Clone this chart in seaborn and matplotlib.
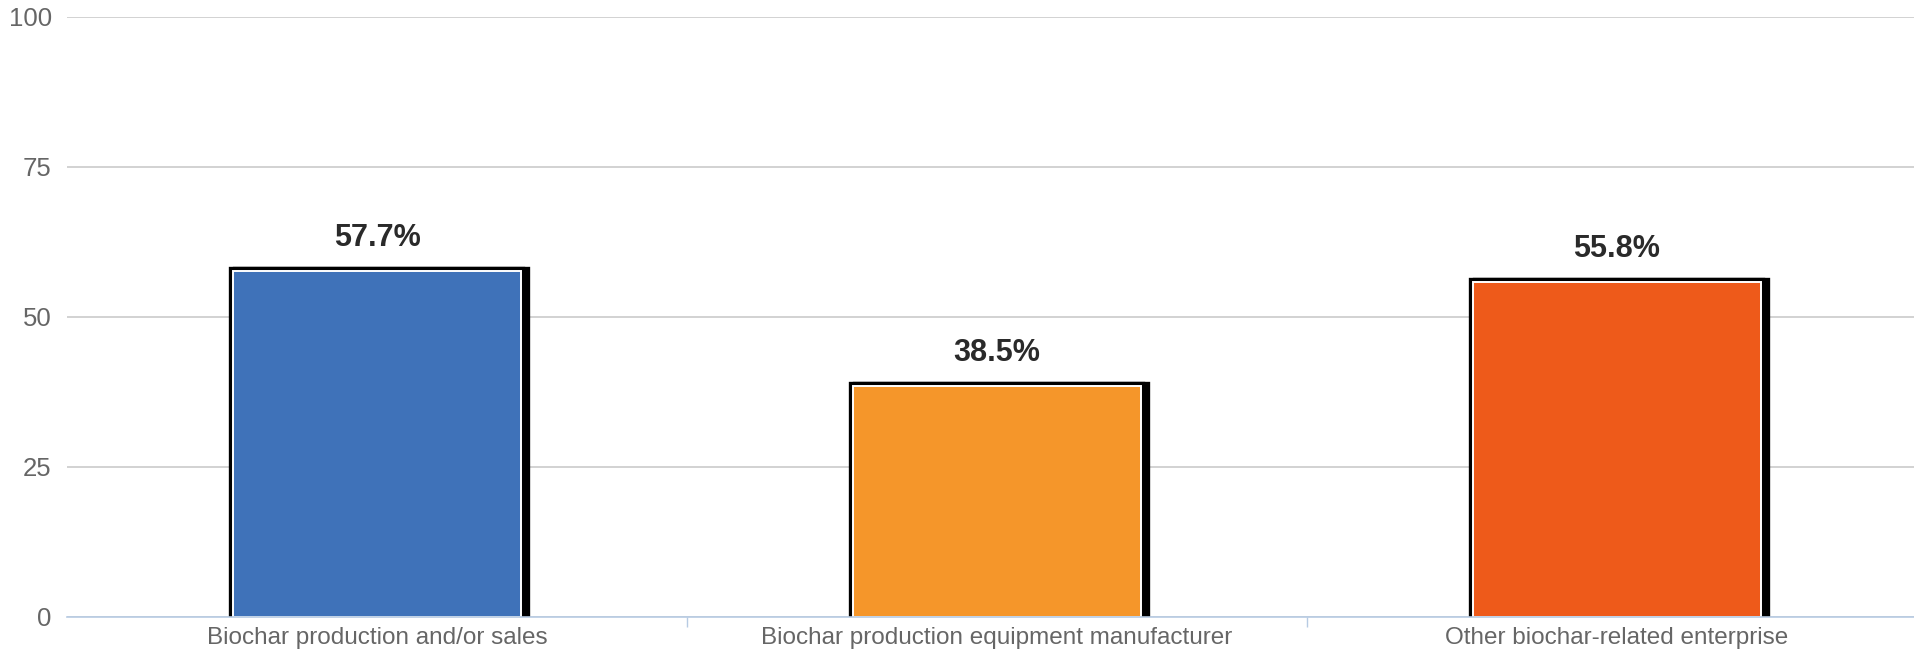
import matplotlib
matplotlib.use("Agg")
import matplotlib.pyplot as plt
import matplotlib.patheffects as pe
from matplotlib.ticker import FixedLocator
import seaborn as sns
import pandas as pd

# Data
categories = ["Biochar production and/or sales",
              "Biochar production equipment manufacturer",
              "Other biochar-related enterprise"]
shares = [57.7, 38.5, 55.8]
bar_colors = ["#3F72B9", "#F5962A", "#EE5A1A"]
y_ticks = [0, 25, 50, 75, 100]

df = pd.DataFrame({"category": categories, "share": shares})

sns.set_theme(style="white")
plt.rcParams["font.family"] = ["Liberation Sans", "DejaVu Sans"]

fig = plt.figure(figsize=(19.15, 6.49), dpi=100)
ax = fig.add_axes([67 / 1915, 32 / 649, 1 - 67 / 1915, 600 / 649])

sns.barplot(data=df, x="category", y="share", hue="category",
            palette=bar_colors, saturation=1, legend=False, width=0.465,
            edgecolor="white", linewidth=1.4, ax=ax)

# black frame, thicker on the right side, like the original
for bar in ax.patches:
    bar.set_path_effects([
        pe.Stroke(offset=(3.2, 0), linewidth=6, foreground="black"),
        pe.Stroke(linewidth=6, foreground="black"),
        pe.Normal(),
    ])
    h = bar.get_height()
    ax.annotate(f"{h:.1f}%", (bar.get_x() + bar.get_width() / 2, h),
                xytext=(0, 13), textcoords="offset points",
                ha="center", va="bottom", fontsize=22, fontweight="bold",
                color="#2a2a2a")

ax.set_ylim(0, 100)
ax.set_xlim(-0.5, -0.5 + 1848 / 620)
ax.set_yticks(y_ticks)
ax.set_yticklabels([str(t) for t in y_ticks])
ax.set_xlabel("")
ax.set_ylabel("")

ax.set_axisbelow(True)
ax.yaxis.grid(True, color="#c6c6c6", linewidth=1.1)
ax.xaxis.grid(False)

for side in ["left", "right", "top"]:
    ax.spines[side].set_visible(False)
ax.spines["bottom"].set_color("#b7cbe3")
ax.spines["bottom"].set_linewidth(1.2)
ax.spines["bottom"].set_zorder(5)

ax.tick_params(axis="y", length=0, pad=11, labelsize=18.5, labelcolor="#666666")
ax.tick_params(axis="x", which="major", length=0, pad=7, labelsize=17.5,
               labelcolor="#666666")
ax.xaxis.set_minor_locator(FixedLocator([0.5, 1.5]))
ax.tick_params(axis="x", which="minor", length=7, width=1, color="#b7cbe3",
               direction="out", bottom=True)

fig.savefig("out.png", dpi=100)
